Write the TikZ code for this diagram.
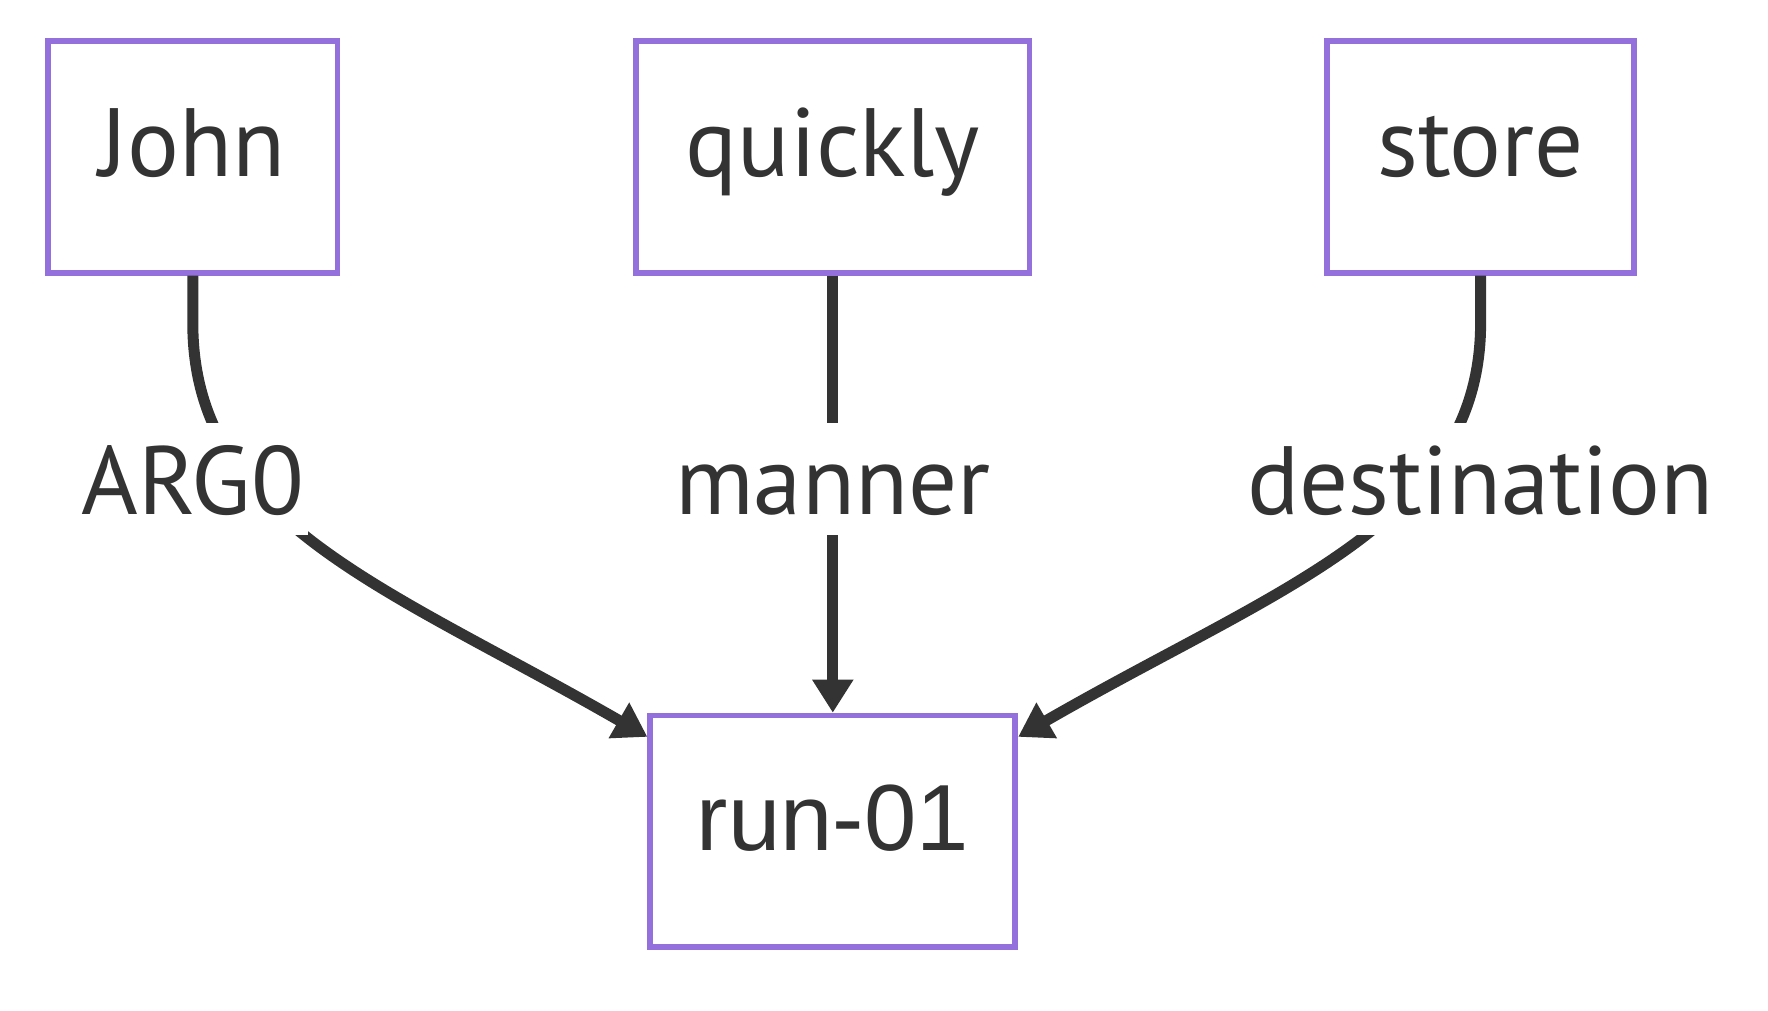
\documentclass[tikz,border=0pt]{standalone}
\usepackage{fontspec}
\setmainfont{PT Sans}
\newfontfamily\arialfont{Liberation Sans}
\usetikzlibrary{arrows.meta}

\definecolor{ink}{HTML}{333333}
\definecolor{lilac}{HTML}{9370DB}

\tikzset{
  concept/.style={draw=lilac, line width=5.7pt, fill=white, text=ink,
    minimum height=231.5pt, inner sep=0pt, text height=70pt, text depth=32pt,
    font=\fontsize{97}{116}\selectfont},
  role/.style={fill=white, text=ink, inner xsep=4pt, inner ysep=0pt,
    text height=91pt, text depth=21pt, font=\fontsize{97}{116}\selectfont},
  link/.style={draw=ink, line width=11pt, -{Triangle[length=33pt,width=39pt]}},
}

\begin{document}
\begin{tikzpicture}[x=1pt, y=-1pt]
\useasboundingbox (0,0) rectangle (1768,1011);
\node[concept, minimum width=289.6pt] (John) at (192.8,157) {John};
\node[concept, minimum width=393.5pt] (quickly) at (832.8,157) {quickly};
\node[concept, minimum width=306.7pt] (store) at (1480.6,157) {store};
\node[concept, minimum width=365pt, font=\arialfont\fontsize{94}{113}\selectfont] (run01) at (832.8,831.3) {run-01};
% edges, the labels sit on top of them
\draw[link] (John.south) -- ++(0,47.5) .. controls +(0,200) and +(-260,-150) .. (run01.153);
\draw[link] (quickly.south) -- (run01.north);
\draw[link] (store.south) -- ++(0,47.5) .. controls +(0,200) and +(260,-150) .. (run01.27);
\node[role] (ARG0) at (192.8,479) {ARG0};
\node[role] (manner) at (832.8,479) {manner};
\node[role] (destination) at (1480.6,479) {destination};
\end{tikzpicture}
\end{document}
